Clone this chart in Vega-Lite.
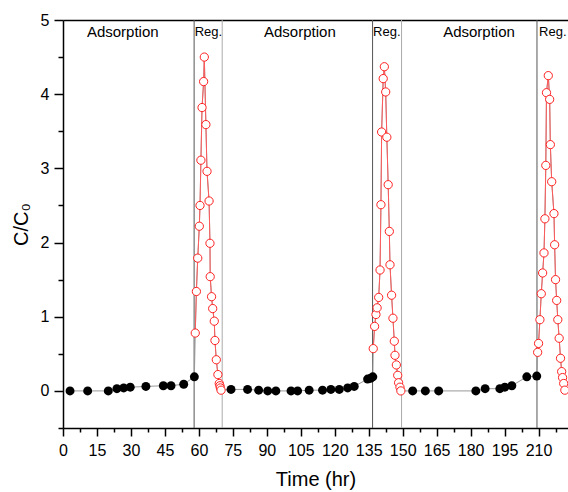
{
  "$schema": "https://vega.github.io/schema/vega-lite/v6.json",
  "width": 505,
  "height": 408,
  "autosize": {"type": "none"},
  "padding": {"left": 63, "top": 20, "right": 0, "bottom": 64},
  "config": {
    "font": "Liberation Sans",
    "view": {"stroke": null},
    "axis": {"grid": false, "domainColor": "#000", "domainWidth": 1.5, "tickColor": "#000", "tickWidth": 1.5, "labelColor": "#000", "labelFontSize": 16, "titleColor": "#000", "titleFontWeight": "normal", "titleFontSize": 20}
  },
  "datasets": {
    "pts": [
      {"t": 3.1, "v": 0, "phase": "ads", "cycle": 1},
      {"t": 10.9, "v": 0, "phase": "ads", "cycle": 1},
      {"t": 20.0, "v": 0, "phase": "ads", "cycle": 1},
      {"t": 23.8, "v": 0.03, "phase": "ads", "cycle": 1},
      {"t": 26.8, "v": 0.04, "phase": "ads", "cycle": 1},
      {"t": 29.7, "v": 0.05, "phase": "ads", "cycle": 1},
      {"t": 36.6, "v": 0.06, "phase": "ads", "cycle": 1},
      {"t": 44.3, "v": 0.07, "phase": "ads", "cycle": 1},
      {"t": 47.7, "v": 0.07, "phase": "ads", "cycle": 1},
      {"t": 53.3, "v": 0.09, "phase": "ads", "cycle": 1},
      {"t": 58.0, "v": 0.19, "phase": "ads", "cycle": 1},
      {"t": 58.4, "v": 0.78, "phase": "reg", "cycle": 1},
      {"t": 58.9, "v": 1.34, "phase": "reg", "cycle": 1},
      {"t": 59.5, "v": 1.79, "phase": "reg", "cycle": 1},
      {"t": 60.2, "v": 2.22, "phase": "reg", "cycle": 1},
      {"t": 60.5, "v": 2.5, "phase": "reg", "cycle": 1},
      {"t": 60.9, "v": 3.11, "phase": "reg", "cycle": 1},
      {"t": 61.4, "v": 3.82, "phase": "reg", "cycle": 1},
      {"t": 62.1, "v": 4.17, "phase": "reg", "cycle": 1},
      {"t": 62.4, "v": 4.5, "phase": "reg", "cycle": 1},
      {"t": 63.1, "v": 3.59, "phase": "reg", "cycle": 1},
      {"t": 63.6, "v": 2.96, "phase": "reg", "cycle": 1},
      {"t": 64.5, "v": 2.56, "phase": "reg", "cycle": 1},
      {"t": 64.9, "v": 1.99, "phase": "reg", "cycle": 1},
      {"t": 65.0, "v": 1.54, "phase": "reg", "cycle": 1},
      {"t": 65.6, "v": 1.27, "phase": "reg", "cycle": 1},
      {"t": 66.1, "v": 1.11, "phase": "reg", "cycle": 1},
      {"t": 66.8, "v": 0.94, "phase": "reg", "cycle": 1},
      {"t": 67.1, "v": 0.68, "phase": "reg", "cycle": 1},
      {"t": 67.7, "v": 0.42, "phase": "reg", "cycle": 1},
      {"t": 68.4, "v": 0.22, "phase": "reg", "cycle": 1},
      {"t": 69.0, "v": 0.1, "phase": "reg", "cycle": 1},
      {"t": 69.3, "v": 0.07, "phase": "reg", "cycle": 1},
      {"t": 69.5, "v": 0.04, "phase": "reg", "cycle": 1},
      {"t": 69.8, "v": 0.01, "phase": "reg", "cycle": 1},
      {"t": 74.2, "v": 0.02, "phase": "ads", "cycle": 2},
      {"t": 81.5, "v": 0.02, "phase": "ads", "cycle": 2},
      {"t": 86.4, "v": 0.01, "phase": "ads", "cycle": 2},
      {"t": 90.4, "v": 0.0, "phase": "ads", "cycle": 2},
      {"t": 94.0, "v": 0.0, "phase": "ads", "cycle": 2},
      {"t": 100.7, "v": 0.0, "phase": "ads", "cycle": 2},
      {"t": 103.6, "v": 0.0, "phase": "ads", "cycle": 2},
      {"t": 108.7, "v": 0.01, "phase": "ads", "cycle": 2},
      {"t": 114.6, "v": 0.01, "phase": "ads", "cycle": 2},
      {"t": 118.3, "v": 0.02, "phase": "ads", "cycle": 2},
      {"t": 122.0, "v": 0.02, "phase": "ads", "cycle": 2},
      {"t": 125.7, "v": 0.04, "phase": "ads", "cycle": 2},
      {"t": 128.6, "v": 0.06, "phase": "ads", "cycle": 2},
      {"t": 134.5, "v": 0.16, "phase": "ads", "cycle": 2},
      {"t": 135.8, "v": 0.17, "phase": "ads", "cycle": 2},
      {"t": 136.8, "v": 0.19, "phase": "ads", "cycle": 2},
      {"t": 137.0, "v": 0.57, "phase": "reg", "cycle": 2},
      {"t": 137.6, "v": 0.87, "phase": "reg", "cycle": 2},
      {"t": 138.2, "v": 1.03, "phase": "reg", "cycle": 2},
      {"t": 138.7, "v": 1.12, "phase": "reg", "cycle": 2},
      {"t": 139.4, "v": 1.26, "phase": "reg", "cycle": 2},
      {"t": 140.0, "v": 1.63, "phase": "reg", "cycle": 2},
      {"t": 140.4, "v": 2.51, "phase": "reg", "cycle": 2},
      {"t": 140.7, "v": 3.49, "phase": "reg", "cycle": 2},
      {"t": 141.4, "v": 4.21, "phase": "reg", "cycle": 2},
      {"t": 141.9, "v": 4.37, "phase": "reg", "cycle": 2},
      {"t": 142.5, "v": 4.03, "phase": "reg", "cycle": 2},
      {"t": 143.0, "v": 3.42, "phase": "reg", "cycle": 2},
      {"t": 143.6, "v": 2.78, "phase": "reg", "cycle": 2},
      {"t": 144.1, "v": 2.15, "phase": "reg", "cycle": 2},
      {"t": 144.4, "v": 1.7, "phase": "reg", "cycle": 2},
      {"t": 145.1, "v": 1.29, "phase": "reg", "cycle": 2},
      {"t": 145.7, "v": 0.98, "phase": "reg", "cycle": 2},
      {"t": 146.3, "v": 0.67, "phase": "reg", "cycle": 2},
      {"t": 146.6, "v": 0.48, "phase": "reg", "cycle": 2},
      {"t": 147.2, "v": 0.35, "phase": "reg", "cycle": 2},
      {"t": 147.8, "v": 0.21, "phase": "reg", "cycle": 2},
      {"t": 148.2, "v": 0.11, "phase": "reg", "cycle": 2},
      {"t": 148.8, "v": 0.05, "phase": "reg", "cycle": 2},
      {"t": 149.2, "v": 0.0, "phase": "reg", "cycle": 2},
      {"t": 154.4, "v": 0.0, "phase": "ads", "cycle": 3},
      {"t": 160.0, "v": 0.0, "phase": "ads", "cycle": 3},
      {"t": 165.9, "v": 0.0, "phase": "ads", "cycle": 3},
      {"t": 182.3, "v": 0.0, "phase": "ads", "cycle": 3},
      {"t": 186.4, "v": 0.03, "phase": "ads", "cycle": 3},
      {"t": 192.9, "v": 0.03, "phase": "ads", "cycle": 3},
      {"t": 195.1, "v": 0.05, "phase": "ads", "cycle": 3},
      {"t": 198.2, "v": 0.07, "phase": "ads", "cycle": 3},
      {"t": 204.8, "v": 0.19, "phase": "ads", "cycle": 3},
      {"t": 209.2, "v": 0.2, "phase": "ads", "cycle": 3},
      {"t": 209.6, "v": 0.52, "phase": "reg", "cycle": 3},
      {"t": 210.0, "v": 0.64, "phase": "reg", "cycle": 3},
      {"t": 210.6, "v": 0.96, "phase": "reg", "cycle": 3},
      {"t": 211.2, "v": 1.31, "phase": "reg", "cycle": 3},
      {"t": 211.8, "v": 1.59, "phase": "reg", "cycle": 3},
      {"t": 212.4, "v": 1.86, "phase": "reg", "cycle": 3},
      {"t": 212.8, "v": 2.32, "phase": "reg", "cycle": 3},
      {"t": 213.2, "v": 3.04, "phase": "reg", "cycle": 3},
      {"t": 213.5, "v": 4.02, "phase": "reg", "cycle": 3},
      {"t": 214.3, "v": 4.25, "phase": "reg", "cycle": 3},
      {"t": 214.9, "v": 3.93, "phase": "reg", "cycle": 3},
      {"t": 215.2, "v": 3.32, "phase": "reg", "cycle": 3},
      {"t": 215.8, "v": 2.82, "phase": "reg", "cycle": 3},
      {"t": 216.8, "v": 2.39, "phase": "reg", "cycle": 3},
      {"t": 217.1, "v": 1.97, "phase": "reg", "cycle": 3},
      {"t": 217.5, "v": 1.5, "phase": "reg", "cycle": 3},
      {"t": 218.0, "v": 1.22, "phase": "reg", "cycle": 3},
      {"t": 218.5, "v": 0.96, "phase": "reg", "cycle": 3},
      {"t": 219.1, "v": 0.71, "phase": "reg", "cycle": 3},
      {"t": 219.7, "v": 0.44, "phase": "reg", "cycle": 3},
      {"t": 220.2, "v": 0.26, "phase": "reg", "cycle": 3},
      {"t": 220.6, "v": 0.18, "phase": "reg", "cycle": 3},
      {"t": 221.1, "v": 0.1, "phase": "reg", "cycle": 3},
      {"t": 221.6, "v": 0.01, "phase": "reg", "cycle": 3}
    ],
    "vlines": [
      {"t": 57.9, "kind": "start"},
      {"t": 70.3, "kind": "end"},
      {"t": 136.7, "kind": "start"},
      {"t": 149.5, "kind": "end"},
      {"t": 209.3, "kind": "start"}
    ],
    "labels": [
      {"t": 26.4, "v": 4.84, "text": "Adsorption"},
      {"t": 64.2, "v": 4.84, "text": "Reg."},
      {"t": 104.6, "v": 4.84, "text": "Adsorption"},
      {"t": 143.0, "v": 4.84, "text": "Reg."},
      {"t": 183.7, "v": 4.84, "text": "Adsorption"},
      {"t": 216.3, "v": 4.84, "text": "Reg."}
    ]
  },
  "resolve": {"axis": {"x": "independent", "y": "independent"}},
  "layer": [
    {
      "data": {"name": "vlines"},
      "mark": {"type": "rule", "strokeWidth": 1},
      "encoding": {
        "x": {"field": "t", "type": "quantitative", "scale": {"domain": [0, 223], "nice": false, "zero": false},
          "axis": {"orient": "bottom", "values": [0, 15, 30, 45, 60, 75, 90, 105, 120, 135, 150, 165, 180, 195, 210], "tickSize": 8, "labelPadding": 6, "title": "Time (hr)", "titlePadding": 11, "labelFlush": false, "labelOverlap": false}},
        "color": {"field": "kind", "type": "nominal", "scale": {"domain": ["start", "end"], "range": ["#555555", "#aaaaaa"]}, "legend": null}
      }
    },
    {
      "data": {"name": "pts"},
      "mark": {"type": "line", "color": "#999999", "strokeWidth": 1},
      "encoding": {
        "x": {"field": "t", "type": "quantitative", "scale": {"domain": [0, 223], "nice": false, "zero": false},
          "axis": {"orient": "bottom", "values": [7.5, 22.5, 37.5, 52.5, 67.5, 82.5, 97.5, 112.5, 127.5, 142.5, 157.5, 172.5, 187.5, 202.5, 217.5], "tickSize": 4, "labels": false, "domain": false, "title": null}},
        "y": {"field": "v", "type": "quantitative", "scale": {"domain": [-0.5, 5], "nice": false, "zero": false},
          "axis": {"orient": "left", "values": [0, 1, 2, 3, 4, 5], "tickSize": 9, "labelPadding": 5, "title": "C/C₀", "titlePadding": 9, "labelFlush": false}},
        "order": {"field": "t", "type": "quantitative"}
      }
    },
    {
      "data": {"name": "pts"},
      "transform": [{"filter": "datum.phase === 'reg'"}],
      "mark": {"type": "line", "color": "#ff5a5a", "strokeWidth": 1},
      "encoding": {
        "x": {"field": "t", "type": "quantitative", "scale": {"domain": [0, 223], "nice": false, "zero": false},
          "axis": {"orient": "top", "ticks": false, "labels": false, "title": null}},
        "y": {"field": "v", "type": "quantitative", "scale": {"domain": [-0.5, 5], "nice": false, "zero": false},
          "axis": {"orient": "left", "values": [-0.5, 0.5, 1.5, 2.5, 3.5, 4.5], "tickSize": 5, "labels": false, "domain": false, "title": null}},
        "detail": {"field": "cycle", "type": "nominal"},
        "order": {"field": "t", "type": "quantitative"}
      }
    },
    {
      "data": {"name": "pts"},
      "transform": [{"filter": "datum.phase === 'ads'"}],
      "mark": {"type": "point", "shape": "circle", "filled": true, "color": "#000000", "size": 80, "opacity": 1},
      "encoding": {
        "x": {"field": "t", "type": "quantitative", "scale": {"domain": [0, 223], "nice": false, "zero": false}, "axis": null},
        "y": {"field": "v", "type": "quantitative", "scale": {"domain": [-0.5, 5], "nice": false, "zero": false}, "axis": null}
      }
    },
    {
      "data": {"name": "pts"},
      "transform": [{"filter": "datum.phase === 'reg'"}],
      "mark": {"type": "point", "shape": "circle", "filled": false, "fill": "#ffffff", "fillOpacity": 1, "stroke": "#ff2020", "strokeWidth": 1, "size": 68, "opacity": 1},
      "encoding": {
        "x": {"field": "t", "type": "quantitative", "scale": {"domain": [0, 223], "nice": false, "zero": false}, "axis": null},
        "y": {"field": "v", "type": "quantitative", "scale": {"domain": [-0.5, 5], "nice": false, "zero": false}, "axis": null}
      }
    },
    {
      "data": {"name": "labels"},
      "mark": {"type": "text", "color": "#000000", "align": "center", "baseline": "middle"},
      "encoding": {
        "x": {"field": "t", "type": "quantitative", "scale": {"domain": [0, 223], "nice": false, "zero": false}, "axis": null},
        "y": {"field": "v", "type": "quantitative", "scale": {"domain": [-0.5, 5], "nice": false, "zero": false}, "axis": null},
        "text": {"field": "text"},
        "size": {"field": "text", "type": "nominal", "scale": {"domain": ["Adsorption", "Reg."], "range": [15, 13]}, "legend": null}
      }
    }
  ]
}
